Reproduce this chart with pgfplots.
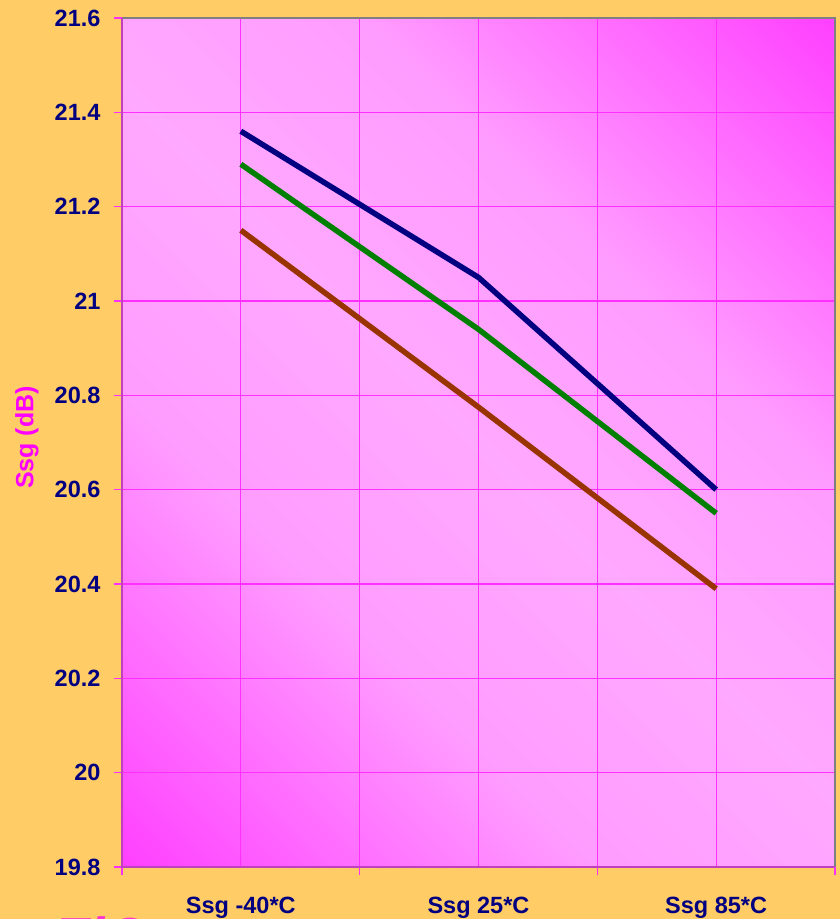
\documentclass[border=0pt]{standalone}
\usepackage{fontspec}
\setmainfont{Liberation Sans}
\usepackage{pgfplots}
\pgfplotsset{compat=1.18}
\definecolor{bgorange}{HTML}{FFCC66}
\definecolor{pinkL}{HTML}{FFA8FF}
\definecolor{pinkA}{HTML}{FF9CFF}
\definecolor{pinkM}{HTML}{FF60FF}
\definecolor{pinkN}{HTML}{FF30FF}
\definecolor{pinkD}{HTML}{FF00FF}
\definecolor{gridc}{HTML}{FF30FF}
\definecolor{navyc}{HTML}{000080}
\definecolor{greenc}{HTML}{008000}
\definecolor{brownc}{HTML}{993300}
\definecolor{axisc}{HTML}{C040C0}
\definecolor{labc}{HTML}{FF00FF}
\definecolor{logoc}{HTML}{FF33CC}
\pgfdeclarehorizontalshading{diagpink}{100bp}{color(0bp)=(pinkD); color(11bp)=(pinkN); color(22bp)=(pinkM); color(36bp)=(pinkA); color(50bp)=(pinkL); color(64bp)=(pinkA); color(78bp)=(pinkM); color(89bp)=(pinkN); color(100bp)=(pinkD)}
\begin{document}
\begin{tikzpicture}
\fill[bgorange] (-122bp,-52bp) rectangle (718bp,867bp);
\useasboundingbox (-122bp,-52bp) rectangle (718bp,867bp);
\begin{axis}[name=ax, at={(0,0)}, anchor=south west, scale only axis,
  width=713bp, height=849bp,
  xmin=0, xmax=6, ymin=19.8, ymax=21.6,
  axis background/.style={shade, shading=diagpink, shading angle=45},
  axis line style={draw=none},
  tick pos=left,
  xtick={0,2,4,6}, xticklabels={},
  extra x ticks={1,3,5},
  extra x tick labels={Ssg -40*C,Ssg 25*C,Ssg 85*C},
  extra x tick style={major tick length=0pt, grid=major},
  ytick={19.8,20,20.2,20.4,20.6,20.8,21,21.2,21.4,21.6},
  yticklabels={19.8,20,20.2,20.4,20.6,20.8,21,21.2,21.4,21.6},
  grid=major, major grid style={gridc, line width=1.3bp},
  tick align=outside, major tick length=8bp,
  tick style={gridc, line width=1.3bp},
  ticklabel style={text=navyc, font=\fontsize{23.5bp}{27bp}\selectfont\bfseries},
  yticklabel style={anchor=east, xshift=-10bp},
  xticklabel style={anchor=base, yshift=-46bp},
  ylabel={Ssg (dB)},
  ylabel style={at={(axis description cs:-0.1332,0.506)}, anchor=center, text=labc,
    font=\fontsize{25bp}{29bp}\selectfont\bfseries},
]
\addplot[navyc, line width=5.5bp] coordinates {(1,21.36) (3,21.05) (5,20.60)};
\addplot[greenc, line width=5.5bp] coordinates {(1,21.29) (3,20.94) (5,20.55)};
\addplot[brownc, line width=5.5bp] coordinates {(1,21.15) (3,20.775) (5,20.39)};
\end{axis}
\draw[gray, line width=2.5bp] (ax.north west) -- (ax.north east) -- (ax.south east);
\draw[axisc, line width=2bp] (ax.north west) -- (ax.south west) -- (ax.south east);
\node[anchor=base west, inner sep=0, text=logoc, font=\fontsize{55bp}{60bp}\selectfont\bfseries\itshape] at (-69bp,-89bp) {EiC};
\end{tikzpicture}
\end{document}
